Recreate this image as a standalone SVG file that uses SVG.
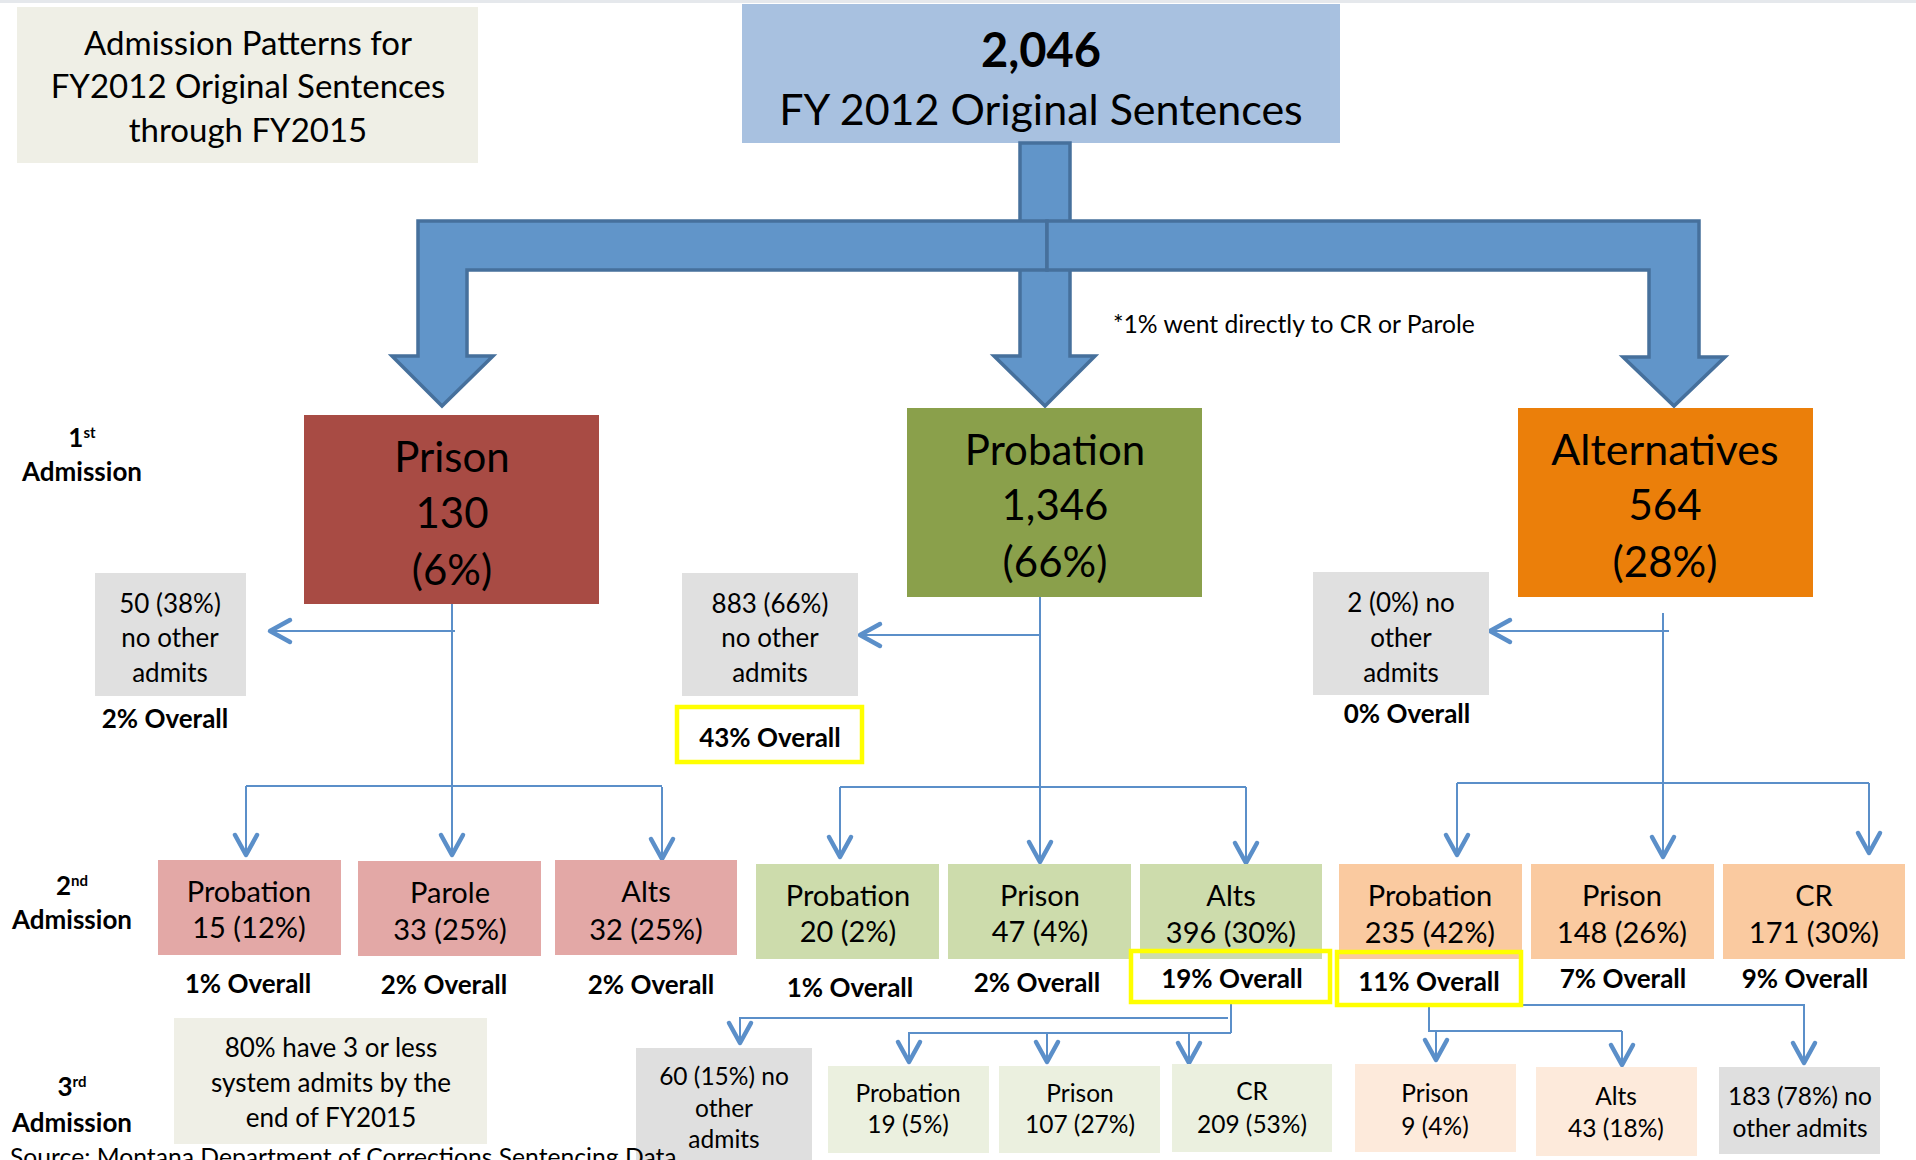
<svg xmlns="http://www.w3.org/2000/svg" width="1916" height="1160" viewBox="0 0 1916 1160">
<style>
text{font-family:Lato,"Open Sans","Liberation Sans",sans-serif;fill:#000;text-anchor:middle}
.b{font-weight:bold}
.title{font-size:33px}
.top1{font-size:47px;font-weight:bold}
.top2{font-size:43px}
.t1{font-size:42px}
.t1w{font-size:43px}
.g1{font-size:26px}
.ov{font-size:26px;font-weight:bold}
.t2{font-size:29px}
.t3{font-size:24.5px}
.lbl{font-size:26px;font-weight:bold}
.sup{font-size:15px}
.note{font-size:24.7px;text-anchor:start}
.big{fill:#6195C9;stroke:#46709C;stroke-width:3.5;stroke-linejoin:miter}
.ln{fill:none;stroke:#5B8FC9;stroke-width:2}
.ar{marker-end:url(#chev)}
.hl{fill:none;stroke:#FFFF00;stroke-width:4.5}
</style>
<defs>
<marker id="chev" markerUnits="userSpaceOnUse" viewBox="-25 -15 30 30" refX="0" refY="0" markerWidth="30" markerHeight="30" orient="auto" overflow="visible">
<path d="M-20,-11 L0,0 L-20,11" fill="none" stroke="#5B8FC9" stroke-width="4.5" stroke-linecap="round" stroke-linejoin="round"/>
</marker>
</defs>
<rect x="0" y="0" width="1916" height="3" fill="#E5E8EC"/>

<g id="title">
<rect x="17" y="7" width="461" height="156" fill="#EFEFE6"/>
<text class="title" x="248" y="55">Admission Patterns for</text>
<text class="title" x="248" y="98">FY2012 Original Sentences</text>
<text class="title" x="248" y="142">through FY2015</text>
</g>

<g id="total">
<rect x="742" y="4" width="598" height="139" fill="#A8C1E0"/>
<text class="top1" x="1041" y="67">2,046</text>
<text class="top2" x="1041" y="125">FY 2012 Original Sentences</text>
</g>

<g id="big-arrows">
<polygon class="big" points="1020,143 1070,143 1070,356 1095,356 1045,406 994,356 1020,356"/>
<polygon class="big" points="1047,221 418,221 418,356 392,356 442,406 493,356 467,356 467,270 1047,270"/>
<polygon class="big" points="1047,221 1699,221 1699,357 1725,357 1674,406 1623,357 1649,357 1649,270 1047,270"/>
</g>

<text class="note" x="1113" y="333">*1% went directly to CR or Parole</text>

<g id="labels">
<text class="lbl" x="82" y="447">1<tspan class="sup" dy="-9">st</tspan></text>
<text class="lbl" x="82" y="481">Admission</text>
<text class="lbl" x="72" y="895">2<tspan class="sup" dy="-9">nd</tspan></text>
<text class="lbl" x="72" y="929">Admission</text>
<text class="lbl" x="72" y="1096">3<tspan class="sup" dy="-9">rd</tspan></text>
<text class="lbl" x="72" y="1132">Admission</text>
</g>

<g id="connectors">
<path class="ln ar" d="M452,604 V855"/>
<path class="ln ar" d="M455,631 H270"/>
<path class="ln" d="M246,786 H662"/>
<path class="ln ar" d="M246,786 V855"/>
<path class="ln ar" d="M662,787 V859"/>
<path class="ln ar" d="M1040,590 V862"/>
<path class="ln ar" d="M1040,635 H860"/>
<path class="ln" d="M840,787 H1246"/>
<path class="ln ar" d="M840,787 V857"/>
<path class="ln ar" d="M1246,787 V863"/>
<path class="ln ar" d="M1663,613 V857"/>
<path class="ln ar" d="M1669,631 H1490"/>
<path class="ln" d="M1457,783 H1869"/>
<path class="ln ar" d="M1457,783 V855"/>
<path class="ln ar" d="M1869,783 V853"/>
<path class="ln" d="M1231,1004 V1033"/>
<path class="ln ar" d="M1228,1018 H740 V1043"/>
<path class="ln ar" d="M1231,1033 H909 V1062"/>
<path class="ln ar" d="M1047,1033 V1062"/>
<path class="ln ar" d="M1189,1033 V1063"/>
<path class="ln ar" d="M1429,1005 H1804 V1063"/>
<path class="ln" d="M1429,1005 V1031 H1622"/>
<path class="ln ar" d="M1622,1031 V1065"/>
<path class="ln ar" d="M1436,1031 V1060"/>
</g>

<g id="prison1">
<rect x="304" y="415" width="295" height="189" fill="#A84B44"/>
<text class="t1" x="452" y="472">Prison</text>
<text class="t1" x="452" y="528">130</text>
<text class="t1" x="452" y="585">(6%)</text>
</g>
<g id="probation1">
<rect x="907" y="408" width="295" height="189" fill="#8AA04B"/>
<text class="t1" x="1055" y="465">Probation</text>
<text class="t1" x="1055" y="520">1,346</text>
<text class="t1" x="1055" y="577">(66%)</text>
</g>
<g id="alternatives1">
<rect x="1518" y="408" width="295" height="189" fill="#EB7F0A"/>
<text class="t1w" x="1665" y="465">Alternatives</text>
<text class="t1" x="1665" y="520">564</text>
<text class="t1" x="1665" y="577">(28%)</text>
</g>

<g id="prison-none">
<rect x="95" y="573" width="151" height="123" fill="#E0E0E0"/>
<text class="g1" x="170" y="613">50 (38%)</text>
<text class="g1" x="170" y="647">no other</text>
<text class="g1" x="170" y="682">admits</text>
<text class="ov" x="165" y="728">2% Overall</text>
</g>
<g id="probation-none">
<rect x="682" y="573" width="176" height="123" fill="#E0E0E0"/>
<text class="g1" x="770" y="613">883 (66%)</text>
<text class="g1" x="770" y="647">no other</text>
<text class="g1" x="770" y="682">admits</text>
<rect class="hl" x="677" y="707" width="185" height="55"/>
<text class="ov" x="770" y="747">43% Overall</text>
</g>
<g id="alts-none">
<rect x="1313" y="572" width="176" height="123" fill="#E0E0E0"/>
<text class="g1" x="1401" y="612">2 (0%) no</text>
<text class="g1" x="1401" y="647">other</text>
<text class="g1" x="1401" y="682">admits</text>
<text class="ov" x="1407" y="723">0% Overall</text>
</g>

<g id="p-probation">
<rect x="158" y="860" width="183" height="95" fill="#E3A8A6"/>
<text class="t2" x="249" y="902">Probation</text>
<text class="t2" x="249" y="938">15 (12%)</text>
<text class="ov" x="248" y="993">1% Overall</text>
</g>
<g id="p-parole">
<rect x="358" y="861" width="183" height="95" fill="#E3A8A6"/>
<text class="t2" x="450" y="903">Parole</text>
<text class="t2" x="450" y="940">33 (25%)</text>
<text class="ov" x="444" y="994">2% Overall</text>
</g>
<g id="p-alts">
<rect x="555" y="860" width="182" height="95" fill="#E3A8A6"/>
<text class="t2" x="646" y="902">Alts</text>
<text class="t2" x="646" y="940">32 (25%)</text>
<text class="ov" x="651" y="994">2% Overall</text>
</g>

<g id="b-probation">
<rect x="756" y="864" width="183" height="95" fill="#CDDCAC"/>
<text class="t2" x="848" y="906">Probation</text>
<text class="t2" x="848" y="942">20 (2%)</text>
<text class="ov" x="850" y="997">1% Overall</text>
</g>
<g id="b-prison">
<rect x="948" y="864" width="183" height="95" fill="#CDDCAC"/>
<text class="t2" x="1040" y="906">Prison</text>
<text class="t2" x="1040" y="942">47 (4%)</text>
<text class="ov" x="1037" y="992">2% Overall</text>
</g>
<g id="b-alts">
<rect x="1140" y="864" width="182" height="95" fill="#CDDCAC"/>
<text class="t2" x="1231" y="906">Alts</text>
<text class="t2" x="1231" y="943">396 (30%)</text>
<rect class="hl" x="1131" y="951" width="199" height="51"/>
<text class="ov" x="1232" y="988">19% Overall</text>
</g>

<g id="a-probation">
<rect x="1339" y="864" width="183" height="95" fill="#FACAA0"/>
<text class="t2" x="1430" y="906">Probation</text>
<text class="t2" x="1430" y="943">235 (42%)</text>
<rect class="hl" x="1337" y="952" width="184" height="53"/>
<text class="ov" x="1429" y="991">11% Overall</text>
</g>
<g id="a-prison">
<rect x="1531" y="864" width="183" height="95" fill="#FACAA0"/>
<text class="t2" x="1622" y="906">Prison</text>
<text class="t2" x="1622" y="943">148 (26%)</text>
<text class="ov" x="1623" y="988">7% Overall</text>
</g>
<g id="a-cr">
<rect x="1723" y="864" width="182" height="95" fill="#FACAA0"/>
<text class="t2" x="1814" y="906">CR</text>
<text class="t2" x="1814" y="943">171 (30%)</text>
<text class="ov" x="1805" y="988">9% Overall</text>
</g>

<g id="note-80">
<rect x="174" y="1018" width="313" height="126" fill="#EFEFE6"/>
<text class="g1" x="331" y="1057">80% have 3 or less</text>
<text class="g1" x="331" y="1092">system admits by the</text>
<text class="g1" x="331" y="1127">end of FY2015</text>
</g>

<g id="c-none">
<rect x="636" y="1048" width="176" height="120" fill="#DFDFDF"/>
<text class="t3" x="724" y="1085">60 (15%) no</text>
<text class="t3" x="724" y="1117">other</text>
<text class="t3" x="724" y="1148">admits</text>
</g>
<g id="c-probation">
<rect x="828" y="1066" width="161" height="87" fill="#EBF0DF"/>
<text class="t3" x="908" y="1102">Probation</text>
<text class="t3" x="908" y="1133">19 (5%)</text>
</g>
<g id="c-prison">
<rect x="999" y="1066" width="161" height="87" fill="#EBF0DF"/>
<text class="t3" x="1080" y="1102">Prison</text>
<text class="t3" x="1080" y="1133">107 (27%)</text>
</g>
<g id="c-cr">
<rect x="1172" y="1064" width="160" height="88" fill="#EBF0DF"/>
<text class="t3" x="1252" y="1100">CR</text>
<text class="t3" x="1252" y="1133">209 (53%)</text>
</g>
<g id="d-prison">
<rect x="1355" y="1064" width="161" height="88" fill="#FDEADB"/>
<text class="t3" x="1435" y="1102">Prison</text>
<text class="t3" x="1435" y="1135">9 (4%)</text>
</g>
<g id="d-alts">
<rect x="1536" y="1067" width="161" height="89" fill="#FDEADB"/>
<text class="t3" x="1616" y="1105">Alts</text>
<text class="t3" x="1616" y="1137">43 (18%)</text>
</g>
<g id="d-none">
<rect x="1719" y="1067" width="161" height="87" fill="#DFDFDF"/>
<text class="t3" x="1800" y="1105">183 (78%) no</text>
<text class="t3" x="1800" y="1137">other admits</text>
</g>

<text class="note" x="10" y="1166">Source: Montana Department of Corrections Sentencing Data</text>
</svg>
